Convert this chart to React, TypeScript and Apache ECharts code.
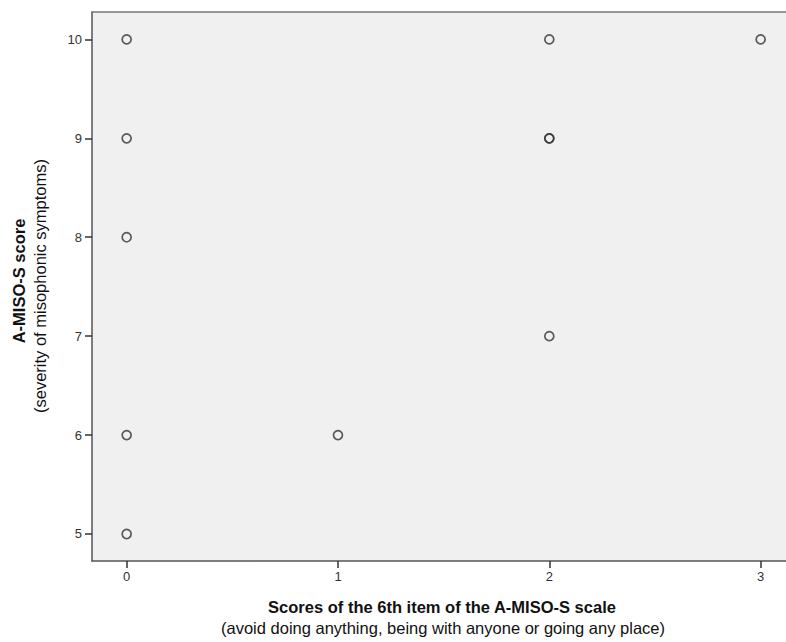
import React, { useEffect, useRef } from "react";
import * as echarts from "echarts";

const xTicks = [0, 1, 2, 3];
const yTicks = [5, 6, 7, 8, 9, 10];
const itemScores = [0, 0, 0, 0, 0, 1, 2, 2, 2, 2, 3];
const misoScores = [10, 9, 8, 6, 5, 6, 10, 9, 9, 7, 10];

const xTitle = "Scores of the 6th item of the A-MISO-S scale";
const xSubtitle = "(avoid doing anything, being with anyone or going any place)";
const yTitle = "A-MISO-S score";
const ySubtitle = "(severity of misophonic symptoms)";

export default function App() {
  const ref = useRef<HTMLDivElement>(null);
  useEffect(() => {
    if (!ref.current) return;
    const chart = echarts.init(ref.current, undefined, { renderer: "svg" });
    const font = "Arial, 'Liberation Sans', sans-serif";
    chart.setOption({
      animation: false,
      backgroundColor: "#ffffff",
      grid: {
        left: 92,
        top: 12,
        right: 0,
        bottom: 81,
        show: true,
        backgroundColor: "#f0f0f0",
        borderWidth: 0,
      },
      xAxis: [
        {
          type: "value",
          min: -0.164,
          max: 3.12,
          splitLine: { show: false },
          axisLine: { show: true, onZero: false, lineStyle: { color: "#555555", width: 1.5 } },
          axisTick: { show: true, length: 7, lineStyle: { color: "#333333", width: 1.5 }, customValues: xTicks },
          axisLabel: {
            color: "#333333",
            fontSize: 13,
            fontFamily: font,
            margin: 9,
            customValues: xTicks,
          },
        },
        {
          type: "value",
          position: "top",
          min: -0.164,
          max: 3.12,
          splitLine: { show: false },
          axisLine: { show: true, onZero: false, lineStyle: { color: "#777777", width: 1.5 } },
          axisTick: { show: false },
          axisLabel: { show: false },
        },
      ],
      yAxis: {
        type: "value",
        min: 4.727,
        max: 10.277,
        splitLine: { show: false },
        axisLine: { show: true, onZero: false, lineStyle: { color: "#555555", width: 1.5 } },
        axisTick: { show: true, length: 7, lineStyle: { color: "#333333", width: 1.5 }, customValues: yTicks },
        axisLabel: {
          color: "#333333",
          fontSize: 13,
          fontFamily: font,
          margin: 10,
          customValues: yTicks,
        },
      },
      series: [
        {
          type: "scatter",
          xAxisIndex: 0,
          data: itemScores.map((x, i) => [x, misoScores[i]]),
          symbol: "circle",
          symbolSize: 9,
          itemStyle: { color: "rgba(0,0,0,0)", borderColor: "#333333", borderWidth: 1.7 },
        },
      ],
      graphic: [
        {
          type: "text",
          x: 442,
          y: 607,
          style: {
            text: xTitle,
            font: `bold 16.5px ${font}`,
            fill: "#111111",
            textAlign: "center",
            textVerticalAlign: "middle",
          },
        },
        {
          type: "text",
          x: 443,
          y: 628,
          style: {
            text: xSubtitle,
            font: `16.5px ${font}`,
            fill: "#111111",
            textAlign: "center",
            textVerticalAlign: "middle",
          },
        },
        {
          type: "text",
          x: 19,
          y: 281,
          rotation: Math.PI / 2,
          style: {
            text: yTitle,
            font: `bold 16.5px ${font}`,
            fill: "#111111",
            textAlign: "center",
            textVerticalAlign: "middle",
          },
        },
        {
          type: "text",
          x: 40,
          y: 286,
          rotation: Math.PI / 2,
          style: {
            text: ySubtitle,
            font: `16.5px ${font}`,
            fill: "#111111",
            textAlign: "center",
            textVerticalAlign: "middle",
          },
        },
      ],
    });
    return () => chart.dispose();
  }, []);
  return (
    <div
      ref={ref}
      style={{ position: "fixed", left: 0, top: 0, width: 786, height: 642 }}
    />
  );
}
